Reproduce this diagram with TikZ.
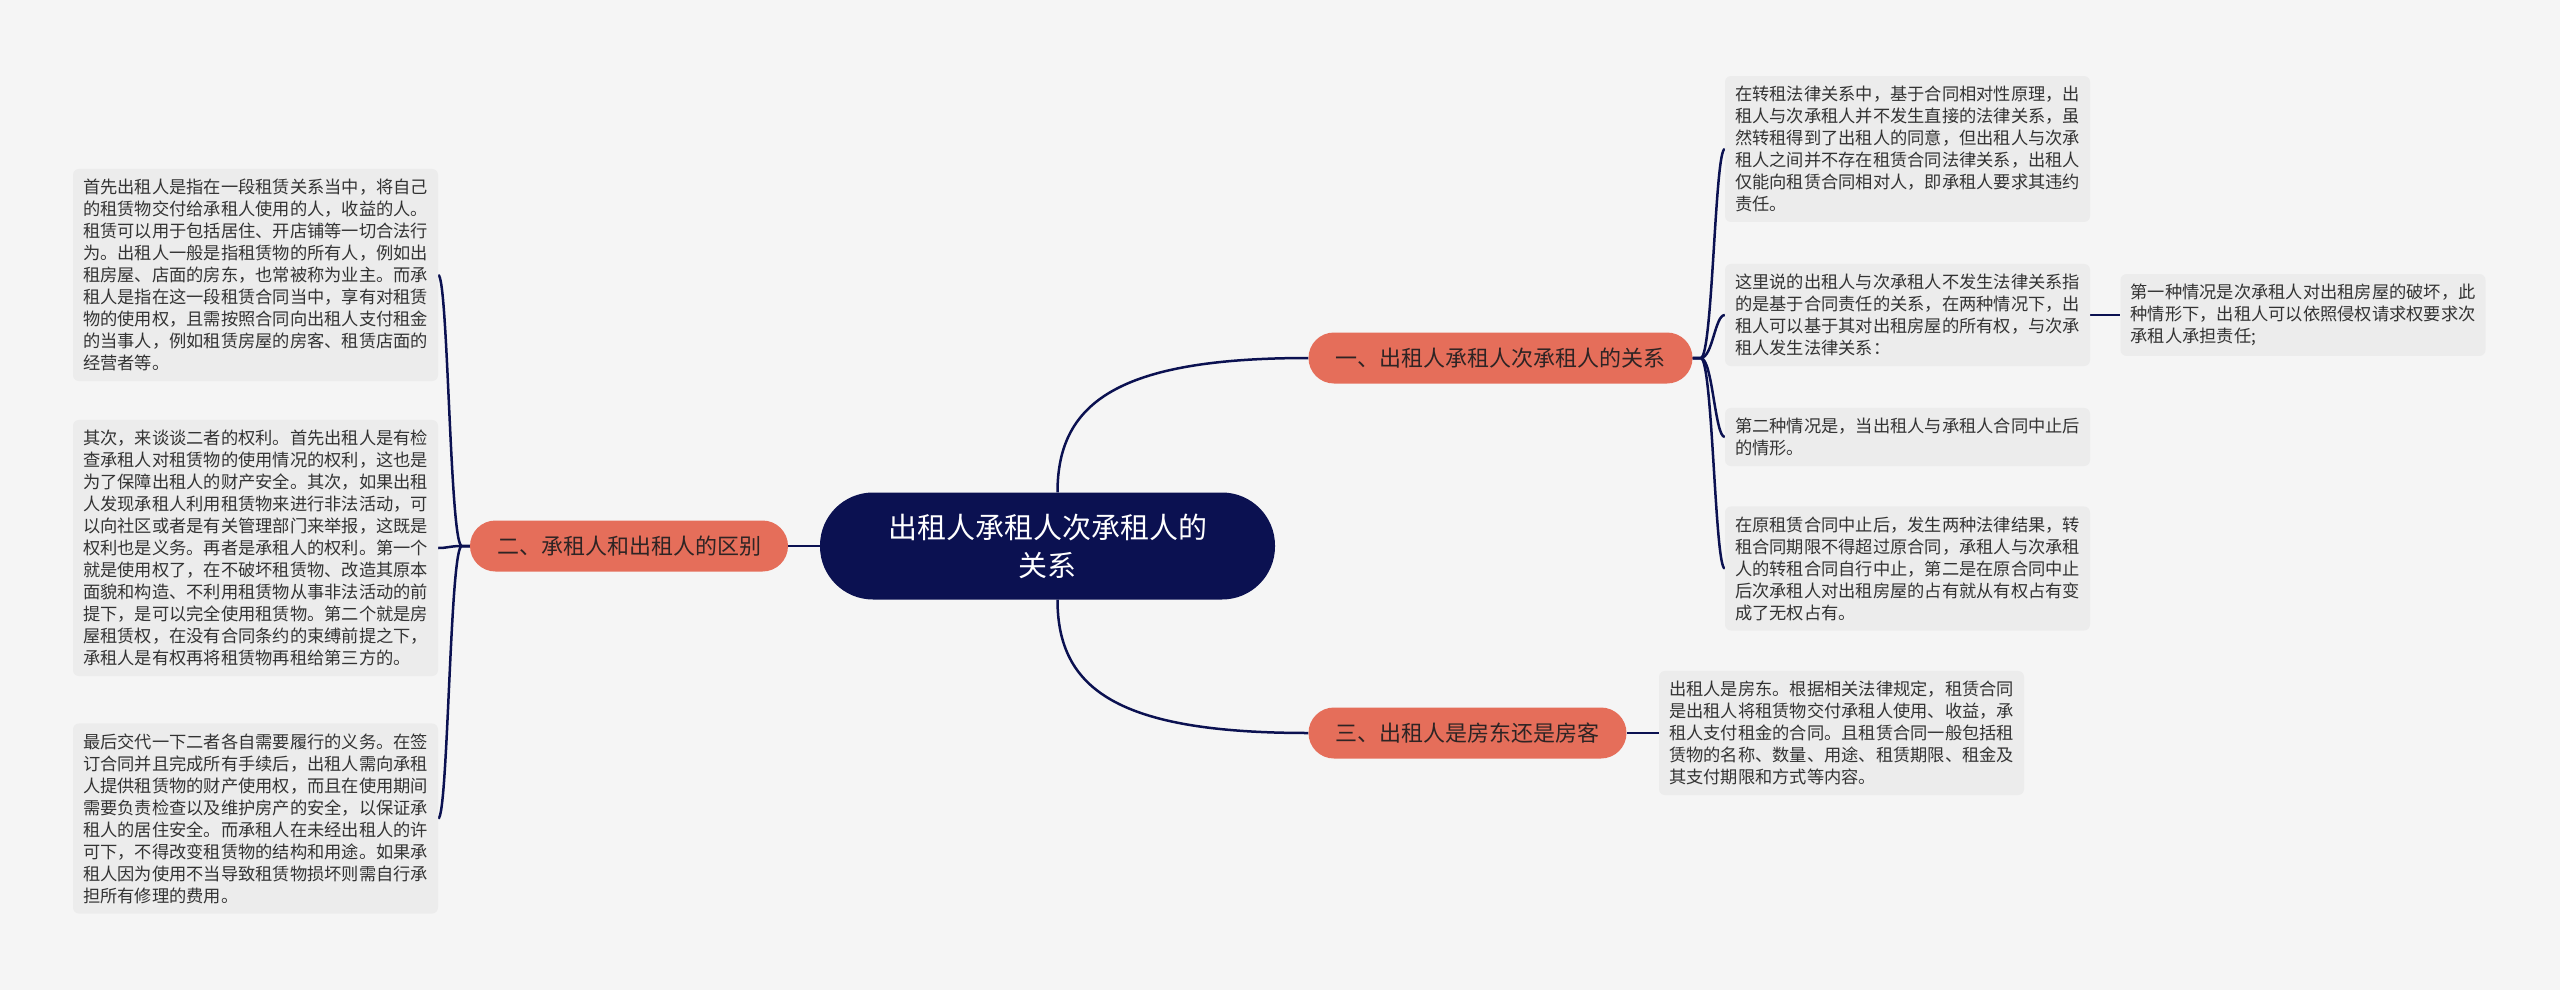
\documentclass[tikz,border=0pt]{standalone}
\usepackage{fontspec}
\setmainfont{Noto Sans CJK SC}
\usetikzlibrary{backgrounds}
\definecolor{navy}{HTML}{0B1151}
\definecolor{coral}{HTML}{E56E5A}
\definecolor{pagebg}{HTML}{F5F5F5}
\definecolor{leafbg}{HTML}{ECECEC}
\definecolor{leaftext}{HTML}{333333}
\definecolor{branchtext}{HTML}{2E2424}
\begin{document}
\begin{tikzpicture}[x=1pt,y=-1pt,
  root/.style={fill=navy, text=white, rounded corners=53pt, minimum width=455pt, minimum height=107pt, align=center, inner sep=0pt, font=\fontsize{29}{38}\selectfont},
  branch/.style={fill=coral, text=branchtext, rounded corners=25.5pt, minimum height=51pt, inner xsep=27pt, inner ysep=0pt, font=\fontsize{22}{26}\selectfont},
  leaf/.style={fill=leafbg, text=leaftext, rounded corners=6pt, text width=345pt, align=left, inner xsep=10pt, inner ysep=10pt, font=\fontsize{17.25}{22}\selectfont},
  link/.style={draw=navy, line width=2.5pt}
]
\useasboundingbox (0,0) rectangle (2560,990);

\node[root] (c) at (1047.5,546) {出租人承租人次承租人的\\关系};
\node[branch] (b2) at (629,546) {二、承租人和出租人的区别};
\node[branch] (b1) at (1500.5,358) {一、出租人承租人次承租人的关系};
\node[branch] (b3) at (1467.5,733) {三、出租人是房东还是房客};

\node[leaf] (L1) at (255.5,275) {首先出租人是指在一段租赁关系当中，将自己\\的租赁物交付给承租人使用的人，收益的人。\\租赁可以用于包括居住、开店铺等一切合法行\\为。出租人一般是指租赁物的所有人，例如出\\租房屋、店面的房东，也常被称为业主。而承\\租人是指在这一段租赁合同当中，享有对租赁\\物的使用权，且需按照合同向出租人支付租金\\的当事人，例如租赁房屋的房客、租赁店面的\\经营者等。};
\node[leaf] (L2) at (255.5,548) {其次，来谈谈二者的权利。首先出租人是有检\\查承租人对租赁物的使用情况的权利，这也是\\为了保障出租人的财产安全。其次，如果出租\\人发现承租人利用租赁物来进行非法活动，可\\以向社区或者是有关管理部门来举报，这既是\\权利也是义务。再者是承租人的权利。第一个\\就是使用权了，在不破坏租赁物、改造其原本\\面貌和构造、不利用租赁物从事非法活动的前\\提下，是可以完全使用租赁物。第二个就是房\\屋租赁权，在没有合同条约的束缚前提之下，\\承租人是有权再将租赁物再租给第三方的。};
\node[leaf] (L3) at (255.5,818.5) {最后交代一下二者各自需要履行的义务。在签\\订合同并且完成所有手续后，出租人需向承租\\人提供租赁物的财产使用权，而且在使用期间\\需要负责检查以及维护房产的安全，以保证承\\租人的居住安全。而承租人在未经出租人的许\\可下，不得改变租赁物的结构和用途。如果承\\租人因为使用不当导致租赁物损坏则需自行承\\担所有修理的费用。};

\node[leaf] (R1a) at (1907.5,149) {在转租法律关系中，基于合同相对性原理，出\\租人与次承租人并不发生直接的法律关系，虽\\然转租得到了出租人的同意，但出租人与次承\\租人之间并不存在租赁合同法律关系，出租人\\仅能向租赁合同相对人，即承租人要求其违约\\责任。};
\node[leaf] (R1b) at (1907.5,315) {这里说的出租人与次承租人不发生法律关系指\\的是基于合同责任的关系，在两种情况下，出\\租人可以基于其对出租房屋的所有权，与次承\\租人发生法律关系：};
\node[leaf] (R1e) at (2303,315) {第一种情况是次承租人对出租房屋的破坏，此\\种情形下，出租人可以依照侵权请求权要求次\\承租人承担责任;};
\node[leaf] (R1c) at (1907.5,437) {第二种情况是，当出租人与承租人合同中止后\\的情形。};
\node[leaf] (R1d) at (1907.5,568.5) {在原租赁合同中止后，发生两种法律结果，转\\租合同期限不得超过原合同，承租人与次承租\\人的转租合同自行中止，第二是在原合同中止\\后次承租人对出租房屋的占有就从有权占有变\\成了无权占有。};
\node[leaf] (R3a) at (1841.5,733) {出租人是房东。根据相关法律规定，租赁合同\\是出租人将租赁物交付承租人使用、收益，承\\租人支付租金的合同。且租赁合同一般包括租\\赁物的名称、数量、用途、租赁期限、租金及\\其支付期限和方式等内容。};

\begin{scope}[on background layer]
\fill[pagebg] (0,0) rectangle (2560,990);
\draw[link] ([xshift=10pt]c.north) .. controls +(0,-90) and +(-190,0) .. (b1.west);
\draw[link] ([xshift=10pt]c.south) .. controls +(0,90) and +(-190,0) .. (b3.west);
\draw[link] (c.west) -- (b2.east);
\foreach \t in {L1,L2,L3}
  \draw[link] (b2.west) -- ++(-8,0) .. controls +(-12,0) and +(10,0) .. (\t.east);
\foreach \t in {R1a,R1b,R1c,R1d}
  \draw[link] (b1.east) -- ++(8,0) .. controls +(12,0) and +(-10,0) .. (\t.west);
\draw[link] (R1b.east) -- (R1e.west);
\draw[link] (b3.east) -- (R3a.west);
\end{scope}
\end{tikzpicture}
\end{document}
